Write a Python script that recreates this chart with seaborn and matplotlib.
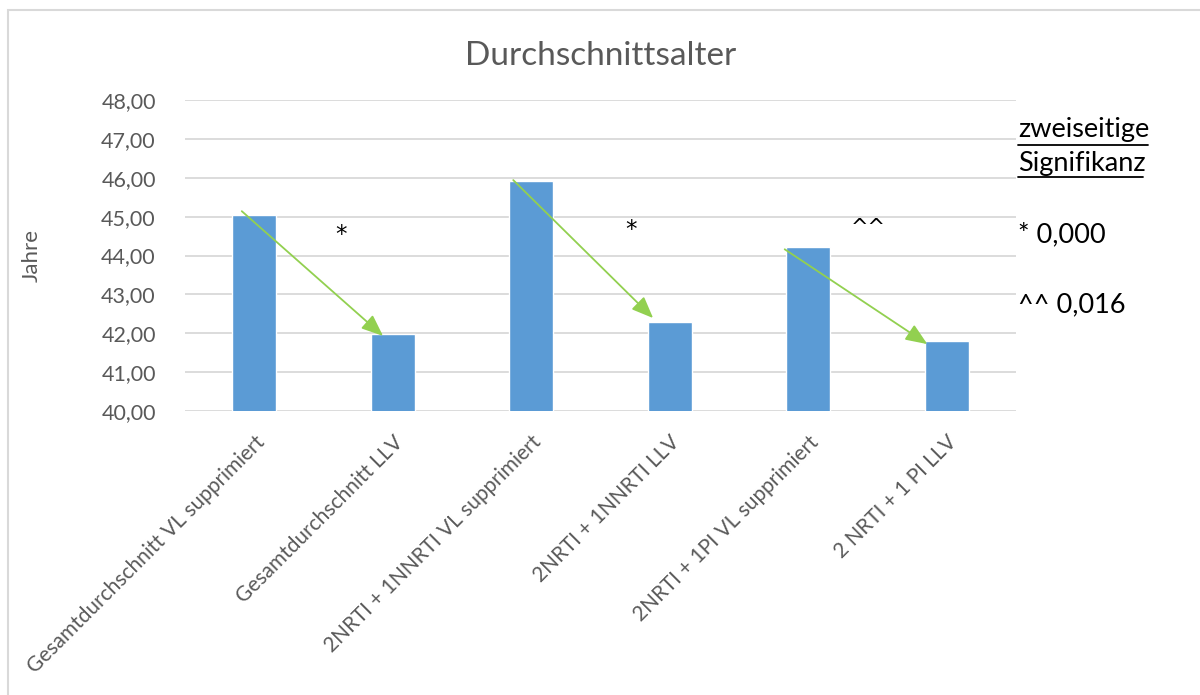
import matplotlib
matplotlib.use("Agg")
import matplotlib.pyplot as plt
import seaborn as sns
import pandas as pd
from matplotlib.ticker import FuncFormatter
from matplotlib.patches import Rectangle

categories = [
    "Gesamtdurchschnitt VL supprimiert",
    "Gesamtdurchschnitt LLV",
    "2NRTI + 1NNRTI VL supprimiert",
    "2NRTI + 1NNRTI LLV",
    "2NRTI + 1PI VL supprimiert",
    "2 NRTI + 1 PI LLV",
]
values = [45.05, 41.97, 45.92, 42.30, 44.23, 41.79]
y_ticks = [40, 41, 42, 43, 44, 45, 46, 47, 48]
# arrows between bar pairs (from index, to index)
arrow_pairs = [(0, 1), (2, 3), (4, 5)]
sig_marks = ["*", "*", "^^"]
sig_x = [0.63, 2.72, 4.43]
sig_y = [44.55, 44.68, 44.72]
legend_lines = ["* 0,000", "^^ 0,016"]

sns.set_theme(style="white")
plt.rcParams["font.family"] = ["Lato", "DejaVu Sans"]

df = pd.DataFrame({"cat": categories, "val": values})

fig = plt.figure(figsize=(12, 6.95), dpi=100)
ax = fig.add_axes([185 / 1200, 1 - 411 / 695, (1016 - 185) / 1200, (411 - 100) / 695])

sns.barplot(data=df, x="cat", y="val", color="#5B9BD5", width=0.32, ax=ax,
            saturation=1)

ax.set_ylim(40, 48)
ax.set_xlim(-0.5, 5.5)
ax.set_yticks(y_ticks)
ax.yaxis.set_major_formatter(FuncFormatter(lambda v, _: f"{v:.2f}".replace(".", ",")))
ax.grid(axis="y", color="#D9D9D9", linewidth=1.3)
ax.set_axisbelow(True)
for s in ax.spines.values():
    s.set_visible(False)
ax.tick_params(axis="y", colors="#595959", labelsize=15.5, length=0, pad=21)
ax.tick_params(axis="x", colors="#595959", labelsize=15, length=0, pad=15)
ax.set_xticks(range(len(categories)))
ax.set_xticklabels(categories, rotation=45, ha="right", rotation_mode="anchor")
ax.set_xlabel("")
ax.set_ylabel("Jahre", color="#595959", fontsize=16, labelpad=43)

# arrows
starts_dx = [-0.09, -0.13, -0.17]
ends_dx = [-0.07, -0.12, -0.14]
starts_dy = [0.09, 0.02, -0.07]
ends_dy = [-0.04, 0.09, -0.07]
for k, (i, j) in enumerate(arrow_pairs):
    ax.annotate("", xy=(j + ends_dx[k], values[j] + ends_dy[k]),
                xytext=(i + starts_dx[k], values[i] + starts_dy[k]),
                arrowprops=dict(arrowstyle="-|>,head_length=1.1,head_width=0.45",
                                color="#92D050", lw=1.3, shrinkA=0, shrinkB=0))

# significance marks
for k in range(len(sig_marks)):
    ax.text(sig_x[k], sig_y[k], sig_marks[k], fontsize=16.5 if sig_marks[k] == "*" else 15,
            ha="center", va="center", color="black", family=["DejaVu Sans"])

ax.set_title("Durchschnittsalter", color="#595959", fontsize=24, pad=25)

# right side text
fs = 19.5
fig.text(1018 / 1200, 1 - 130 / 695, "zweiseitige", fontsize=fs, color="black", va="center", ha="left")
fig.text(1018 / 1200, 1 - 163 / 695, "Signifikanz", fontsize=fs, color="black", va="center", ha="left")
fig.add_artist(plt.Line2D([1018 / 1200, 1148 / 1200], [1 - 145 / 695, 1 - 145 / 695], color="black", lw=1.3))
fig.add_artist(plt.Line2D([1018 / 1200, 1143 / 1200], [1 - 177 / 695, 1 - 177 / 695], color="black", lw=1.3))
fig.text(1018 / 1200, 1 - 235 / 695, legend_lines[0], fontsize=fs, color="black", va="center", ha="left")
fig.text(1018 / 1200, 1 - 305 / 695, legend_lines[1], fontsize=fs, color="black", va="center", ha="left")

# chart border
fig.add_artist(Rectangle((8 / 1200, -0.1), 1.2, 1 - 10 / 695 + 0.1, transform=fig.transFigure,
                         fill=False, edgecolor="#D9D9D9", lw=1.5))

fig.savefig("out.png", dpi=100)
